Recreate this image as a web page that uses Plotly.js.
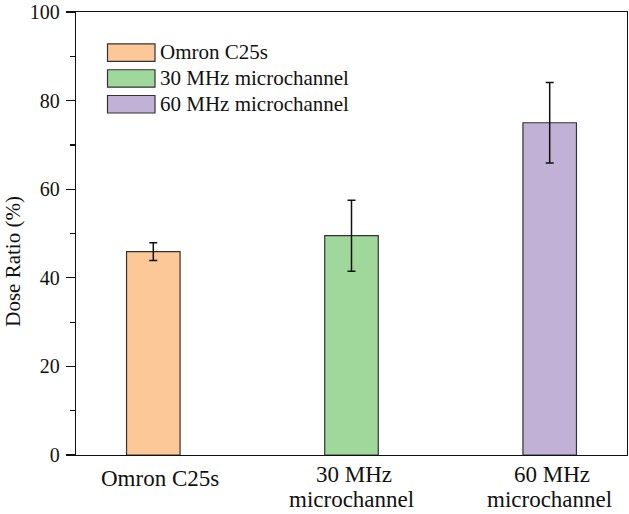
<!DOCTYPE html>
<html>
<head>
<meta charset="utf-8">
<script src="https://cdn.plot.ly/plotly-3.0.1.min.js"></script>
<style>html,body{margin:0;padding:0;background:#fff;}#chart{width:629px;height:514px;}</style>
</head>
<body>
<div id="chart"></div>
<script>
var categories = ["Omron C25s", "30 MHz microchannel", "60 MHz microchannel"];
var tickLine1 = ["Omron C25s", "30 MHz", "60 MHz"];
var tickLine2 = ["", "microchannel", "microchannel"];
var yTitle = "Dose Ratio (%)";
var doseRatio = [45.9, 49.5, 75.0];
var errorValues = [2.0, 8.0, 9.1];
var barColors = ["#FDC897", "#9FD89A", "#C2B1D6"];

var FONT = "Liberation Serif";
var xIdx = categories.map(function(c, i){ return i; });

var traces = [{
  type: "bar",
  x: xIdx,
  y: doseRatio,
  width: 0.27,
  marker: {color: barColors, line: {color: "#333333", width: 1.2}},
  error_y: {type: "data", array: errorValues, visible: true, color: "#111111", thickness: 1.5, width: 4},
  showlegend: false,
  hoverinfo: "skip"
}];

var L = 76, R = 627, T = 11.5, B = 455;
function px(x){ return (x - L) / (R - L); }
function py(y){ return (B - y) / (B - T); }
var shapes = [], annotations = [];
// custom legend
categories.forEach(function(c, i){
  var top = 43.5 + i * 25.8;
  shapes.push({type: "rect", xref: "paper", yref: "paper",
    x0: px(107.5), x1: px(155), y0: py(top + 17.5), y1: py(top),
    fillcolor: barColors[i], line: {color: "#333333", width: 1.2}});
  annotations.push({xref: "paper", yref: "paper", x: px(158), y: py(top + 8.5),
    xanchor: "left", yanchor: "middle", text: c, showarrow: false,
    font: {family: FONT, size: 21, color: "#111"}});
});
// category labels (tight line spacing as in the reference)
xIdx.forEach(function(i){
  var two = tickLine2[i] !== "";
  annotations.push({xref: "x", yref: "paper", x: i, y: py(two ? 475 : 479),
    xanchor: "center", yanchor: "middle", text: tickLine1[i], showarrow: false,
    xshift: two ? 2 : 7,
    font: {family: FONT, size: 23, color: "#111"}});
  if (two) {
    annotations.push({xref: "x", yref: "paper", x: i, y: py(500),
      xanchor: "center", yanchor: "middle", text: tickLine2[i], showarrow: false,
      font: {family: FONT, size: 23, color: "#111"}});
  }
});
// y-axis title
annotations.push({xref: "paper", yref: "paper", x: px(13.5), y: py(261),
  xanchor: "center", yanchor: "middle", textangle: -90, text: yTitle, showarrow: false,
  font: {family: FONT, size: 21, color: "#111"}});

var layout = {
  width: 629, height: 514,
  margin: {l: L, r: 629 - R, t: T, b: 514 - B},
  paper_bgcolor: "#fff", plot_bgcolor: "#fff",
  font: {family: FONT, color: "#111"},
  xaxis: {
    range: [-0.39, 2.39],
    tickmode: "array", tickvals: xIdx, showticklabels: false,
    ticks: "", showgrid: false, zeroline: false,
    showline: true, linecolor: "#111", linewidth: 1.2, mirror: true,
    fixedrange: true
  },
  yaxis: {
    range: [0, 100], dtick: 20, tick0: 0,
    ticks: "outside", ticklen: 9, tickwidth: 1.2, tickcolor: "#111",
    minor: {dtick: 10, tick0: 0, ticks: "outside", ticklen: 5, tickwidth: 1.2, tickcolor: "#111", showgrid: false},
    showgrid: false, zeroline: false,
    showline: true, linecolor: "#111", linewidth: 1.2, mirror: true,
    tickfont: {family: FONT, size: 20},
    ticklabeloverflow: "allow",
    ticklabelstandoff: 2,
    fixedrange: true
  },
  shapes: shapes,
  annotations: annotations,
  bargap: 0
};

Plotly.newPlot("chart", traces, layout, {displayModeBar: false, staticPlot: true});
</script>
</body>
</html>
